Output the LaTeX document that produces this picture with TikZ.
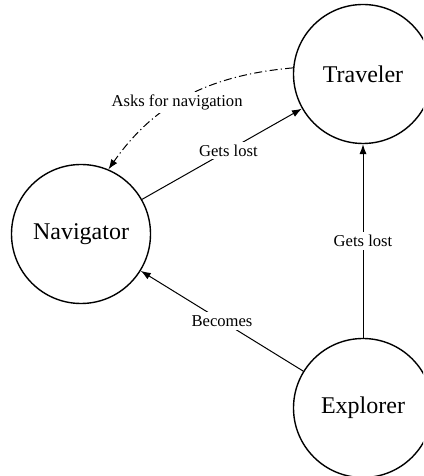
\documentclass[tikz,border=0pt]{standalone}
\usepackage{fontspec}
\setmainfont{Liberation Serif}
\usetikzlibrary{arrows.meta}
\tikzset{
  role/.style={
    shape = circle,
    draw,
    line width = 0.7pt,
    inner sep = 0pt,
    minimum size = 69.5pt,
    font=\fontsize{12}{14}\selectfont
  },
  link/.style={
    line width = 0.5pt,
    -{Latex[length=5pt,width=3.6pt]}
  },
  linklabel/.style={
    fill = white,
    inner sep = 1.5pt,
    font=\fontsize{8.3}{10}\selectfont
  }
}
\begin{document}
\begin{tikzpicture}[x=1pt,y=1pt]
  \useasboundingbox (0,0) rectangle (211.5,238);
  \clip (0,0) rectangle (211.5,238);
  \node[role] (traveler) at (181.5,201) {Traveler};
  \node[role] (navigator) at (40.5,121) {Navigator};
  \node[role] (explorer) at (181.5,34) {Explorer};
  \draw[link] (navigator) -- node[linklabel, pos=0.54] {Gets lost} (traveler);
  \draw[link] (explorer) -- node[linklabel] {Becomes} (navigator);
  \draw[link] (explorer) -- node[linklabel] {Gets lost} (traveler);
  \draw[link, dash pattern=on 4pt off 1.6pt on 0.6pt off 1.6pt]
    (traveler.175) to[out=185,in=55]
    node[linklabel, pos=0.56] {Asks for navigation} (navigator.67);
\end{tikzpicture}
\end{document}
